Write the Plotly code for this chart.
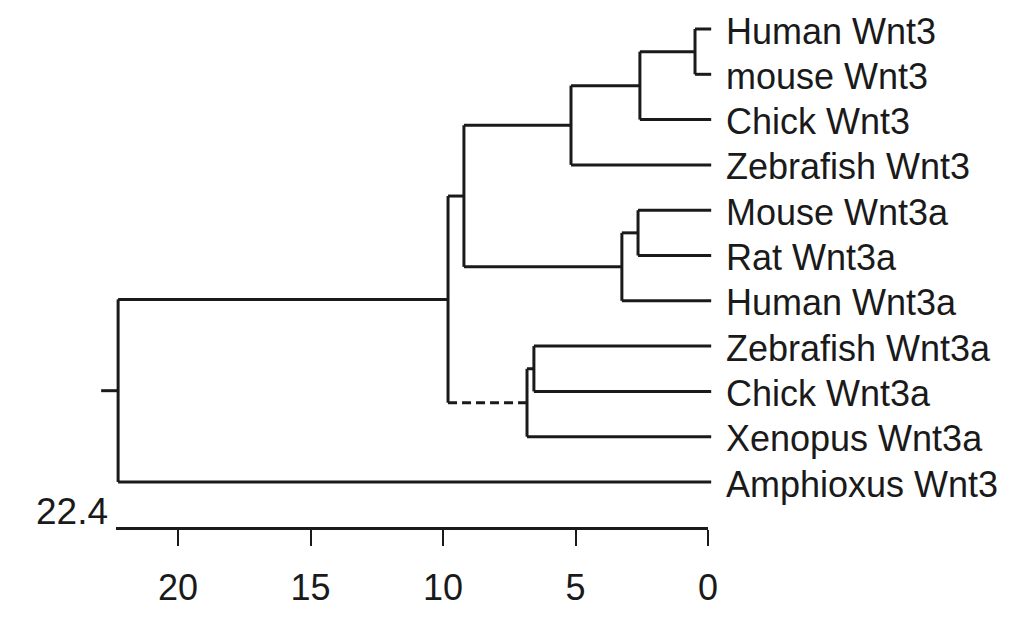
import plotly.graph_objects as go

# ---------------- data ----------------
leaf_names = ["Human Wnt3", "mouse Wnt3", "Chick Wnt3", "Zebrafish Wnt3",
              "Mouse Wnt3a", "Rat Wnt3a", "Human Wnt3a",
              "Zebrafish Wnt3a", "Chick Wnt3a", "Xenopus Wnt3a", "Amphioxus Wnt3"]
# merges: (child_a, child_b, height); node ids continue after the leaves
merge_a = [0, 11, 12, 4, 14, 13, 7, 17, 16, 19]
merge_b = [1, 2, 3, 5, 6, 15, 8, 9, 18, 10]
merge_h = [0.49, 2.57, 5.17, 2.64, 3.25, 9.21, 6.57, 6.83, 9.81, 22.26]
leaf_h = -0.12            # leaf tips end just past zero
dashed_node = 18          # branch leading to this node is drawn dashed
root_stub = 22.9
scale_max = 22.35
scale_label = "22.4"
tick_vals = [20, 15, 10, 5, 0]
tick_text = ["20", "15", "10", "5", "0"]

# ---------------- layout constants ----------------
PAGE_OFFSET = 8            # default body margin of the html page
W, H = 1011 - 2 * PAGE_OFFSET, 624 - 2 * PAGE_OFFSET
PX_PER_UNIT = 26.5
ZERO_PX = 708 - PAGE_OFFSET
LEAF_TOP_PX = 29 - PAGE_OFFSET
LEAF_STEP_PX = 45.3
AXIS_Y_PX = 527 - PAGE_OFFSET
SCALE_LABEL_Y_PX = 511 - PAGE_OFFSET
FONT = "Liberation Sans, Arial, sans-serif"
INK = "#1a1a1a"
LW = 3

# ---------------- tree geometry ----------------
n = len(leaf_names)
xs = {i: leaf_h for i in range(n)}
ys = {i: float(i) for i in range(n)}
solid_x, solid_y, dash_x, dash_y = [], [], [], []
for k, (a, b, h) in enumerate(zip(merge_a, merge_b, merge_h)):
    node = n + k
    xs[node] = h
    ys[node] = (ys[a] + ys[b]) / 2
    for c in (a, b):
        if c == dashed_node:
            dash_x += [h, xs[c], None]
            dash_y += [ys[c], ys[c], None]
        else:
            solid_x += [h, xs[c], None]
            solid_y += [ys[c], ys[c], None]
    solid_x += [h, h, None]
    solid_y += [ys[a], ys[b], None]
root = n + len(merge_h) - 1
solid_x += [root_stub, xs[root], None]
solid_y += [ys[root], ys[root], None]

fig = go.Figure()
fig.add_trace(go.Scatter(x=solid_x, y=solid_y, mode="lines",
                         line=dict(color=INK, width=LW), hoverinfo="skip"))
fig.add_trace(go.Scatter(x=dash_x, y=dash_y, mode="lines",
                         line=dict(color=INK, width=LW, dash="9px,5px"),
                         hoverinfo="skip"))
# invisible trace to carry the scale axis
fig.add_trace(go.Scatter(x=[scale_max, 0], y=[0, 0], mode="markers",
                         marker=dict(opacity=0), xaxis="x2", yaxis="y2",
                         hoverinfo="skip"))

for i, name in enumerate(leaf_names):
    fig.add_annotation(x=0, y=i, xref="x", yref="y", text=name,
                       xanchor="left", yanchor="middle", xshift=16, yshift=-2,
                       showarrow=False, font=dict(family=FONT, size=36, color=INK))

axis_paper_y = 1 - AXIS_Y_PX / H
fig.add_annotation(x=scale_max, y=1 - SCALE_LABEL_Y_PX / H, xref="x2", yref="paper",
                   text=scale_label, xanchor="right", yanchor="middle",
                   xshift=-6, showarrow=False,
                   font=dict(family=FONT, size=37, color=INK))

y_top = -LEAF_TOP_PX / LEAF_STEP_PX
y_bot = (H - LEAF_TOP_PX) / LEAF_STEP_PX
fig.update_layout(
    template="none",
    width=W, height=H, margin=dict(l=0, r=0, t=0, b=0, pad=0, autoexpand=False),
    paper_bgcolor="white", plot_bgcolor="white", showlegend=False,
    xaxis=dict(range=[ZERO_PX / PX_PER_UNIT, (ZERO_PX - W) / PX_PER_UNIT],
               domain=[0, 1], visible=False, automargin=False),
    yaxis=dict(range=[y_bot, y_top], domain=[0, 1], visible=False, automargin=False),
    xaxis2=dict(anchor="y2", automargin=False,
                domain=[(ZERO_PX - scale_max * PX_PER_UNIT) / W, ZERO_PX / W],
                range=[scale_max, 0], showline=True, linecolor=INK, linewidth=LW,
                ticks="outside", ticklen=16, tickwidth=2.4, tickcolor=INK,
                tickvals=tick_vals, ticktext=tick_text, showgrid=False,
                zeroline=False, ticklabelstandoff=11,
                tickfont=dict(family=FONT, size=36, color=INK)),
    yaxis2=dict(anchor="x2", domain=[axis_paper_y, axis_paper_y + 0.01],
                visible=False, range=[-1, 1], automargin=False),
)
fig.write_html("out.html")
